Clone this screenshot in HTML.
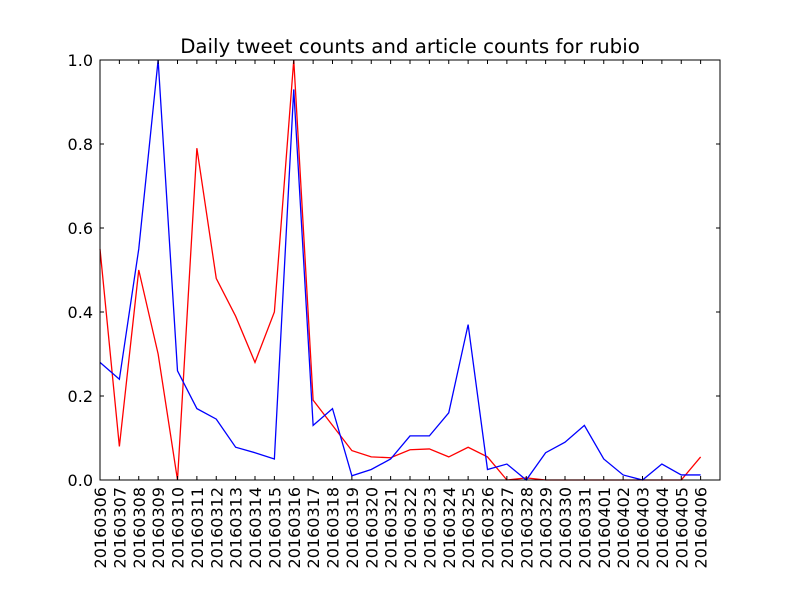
<!DOCTYPE html>
<html><head><meta charset="utf-8"><style>body{margin:0;background:#fff}svg{display:block;font-family:"DejaVu Sans","Liberation Sans",sans-serif}</style></head>
<body>
<svg id="c" width="800" height="600">
<rect width="800" height="600" fill="#fff"/>
<text x="410" y="53" font-size="19.8" text-anchor="middle">Daily tweet counts and article counts for rubio</text>
<g id="plot"></g>
</svg>
<script>
const categories=["20160306","20160307","20160308","20160309","20160310","20160311","20160312","20160313","20160314","20160315","20160316","20160317","20160318","20160319","20160320","20160321","20160322","20160323","20160324","20160325","20160326","20160327","20160328","20160329","20160330","20160331","20160401","20160402","20160403","20160404","20160405","20160406"];
const articleValues=[0.55,0.08,0.5,0.3,0.0,0.79,0.48,0.39,0.28,0.40,1.0,0.19,0.13,0.07,0.055,0.053,0.072,0.074,0.055,0.078,0.055,0.0,0.005,0.0,0,0,0,0,0,0,0.0,0.055];
const tweetValues=[0.28,0.24,0.55,1.0,0.26,0.17,0.145,0.078,0.065,0.05,0.93,0.13,0.17,0.01,0.025,0.05,0.105,0.105,0.16,0.37,0.025,0.038,0.0,0.065,0.09,0.13,0.05,0.012,0.0,0.038,0.012,0.012];
const yTicks=["0.0","0.2","0.4","0.6","0.8","1.0"];
const L=100,R=720,T=60,B=480,NS="http://www.w3.org/2000/svg";
const xs=i=>L+i*(R-L)/32, ys=v=>B-v*(B-T);
const g=document.getElementById('plot');
function mk(t,a){const e=document.createElementNS(NS,t);for(const k in a)e.setAttribute(k,a[k]);g.appendChild(e);return e;}
function series(vals,color,name){const p=mk('polyline',{points:vals.map((v,i)=>xs(i)+','+ys(v)).join(' '),fill:'none',stroke:color,'stroke-width':1.3});

}
series(articleValues,'#ff0000','article-counts-line');
series(tweetValues,'#0000ff','tweet-counts-line');
const f=mk('rect',{x:L,y:T,width:R-L,height:B-T,fill:'none',stroke:'#000','stroke-width':1});


yTicks.forEach(s=>{const v=parseFloat(s),y=ys(v);
mk('line',{x1:L,x2:L+4,y1:y,y2:y,stroke:'#000'});mk('line',{x1:R,x2:R-4,y1:y,y2:y,stroke:'#000'});
const t=mk('text',{x:L-7,y:y+6,'font-size':16,'text-anchor':'end'});t.textContent=s;

});
categories.forEach((c,i)=>{const x=xs(i);
mk('line',{x1:x,x2:x,y1:B,y2:B-4,stroke:'#000'});mk('line',{x1:x,x2:x,y1:T,y2:T+4,stroke:'#000'});
const t=mk('text',{x:0,y:0,'font-size':16,'text-anchor':'end',transform:`translate(${x+6},${B+7}) rotate(-90)`});t.textContent=c;

});
</script>
</body></html>
